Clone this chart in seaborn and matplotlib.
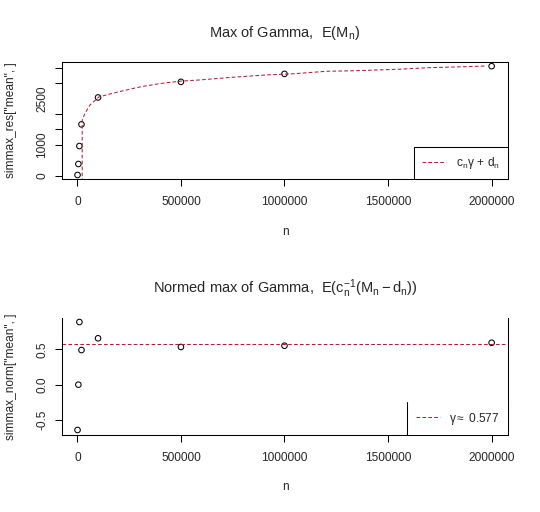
import matplotlib
matplotlib.use('Agg')
import seaborn as sns
from matplotlib import pyplot as plt
from matplotlib.lines import Line2D

# simulated means of the maximum, per sample size
n_sizes = [1000, 5000, 10000, 20000, 100000, 500000, 1000000, 2000000]
mean_max = [23, 380, 962, 1666, 2540, 3046, 3305, 3555]
mean_normed = [-0.641, 0.0, 0.886, 0.490, 0.656, 0.533, 0.551, 0.593]

# theoretical curve c_n * gamma + d_n
curve_n = [23500, 23500, 37000, 61000, 104000, 157000, 237000, 301000,
           398000, 500000, 590000, 749000, 912000, 1047000, 1205000,
           1295000, 1399000, 1567000, 1696000, 1824000, 1976000]
curve_y = [-400, 1808, 2026, 2295, 2555, 2652, 2782, 2880, 2990, 3070,
           3107, 3195, 3270, 3310, 3390, 3400, 3420, 3460, 3506, 3529, 3561]

euler_gamma = 0.577

x_ticks = [0, 500000, 1000000, 1500000, 2000000]
y1_ticks = [0, 1000, 1500, 2000, 3000, 3500]
y1_labels = ['0', '1000', '', '', '', '']
y2_ticks = [-0.5, 0.0, 0.5]

red = '#B01E3C'

sns.set_style('ticks')
plt.rcParams['font.family'] = ['Liberation Sans', 'DejaVu Sans']
plt.rcParams['mathtext.fontset'] = 'custom'
plt.rcParams['mathtext.rm'] = 'Liberation Sans'
plt.rcParams['mathtext.it'] = 'Liberation Sans:italic'
plt.rcParams['lines.dashed_pattern'] = [3.5, 2.2]

fig = plt.figure(figsize=(5.4, 5.12), dpi=100)
ax1 = fig.add_axes([62 / 540, 1 - 179.3 / 512, 446 / 540, 117.6 / 512])
ax2 = fig.add_axes([62 / 540, 1 - 435 / 512, 446 / 540, 117 / 512])

tick_size = 8.6


def style_axes(ax, ylabel):
    for sp in ax.spines.values():
        sp.set_linewidth(0.75)
        sp.set_color('black')
    ax.set_xlim(-74000, 2079000)
    ax.set_xticks(x_ticks)
    ax.set_xticklabels([str(v) for v in x_ticks])
    ax.tick_params(axis='both', which='major', direction='out', length=5,
                   width=0.75, labelsize=tick_size, color='black')
    ax.tick_params(axis='x', pad=7)
    ax.tick_params(axis='y', pad=5, labelrotation=90)
    ax.set_xlabel('n', fontsize=tick_size)
    ax.set_ylabel(ylabel, fontsize=tick_size)
    ax.yaxis.set_label_coords(-0.10, 0.5)
    ax.grid(False)


# top panel
sns.lineplot(x=curve_n, y=curve_y, ax=ax1, estimator=None, sort=False,
             color=red, linestyle='--', linewidth=0.75,
             label=r'$\mathrm{c_n\gamma}\,+\,\mathrm{d_n}$')
sns.scatterplot(x=n_sizes, y=mean_max, ax=ax1, marker='o', s=16,
                facecolor='none', edgecolor='black', linewidth=0.75)
style_axes(ax1, 'simmax_res["mean", ]')
ax1.set_ylim(-117, 3700)
ax1.set_yticks(y1_ticks)
ax1.set_yticklabels(y1_labels)
ax1.set_yticks([2500], minor=True)
ax1.set_yticklabels(['2500'], minor=True)
ax1.tick_params(axis='y', which='minor', length=0, pad=5 + 5,
                labelsize=tick_size, labelrotation=90)
ax1.xaxis.set_label_coords(0.5, -0.397)
ax1.set_title('Max of Gamma,  ' + r'$\mathrm{E(M_n)}$', fontsize=10.5,
              pad=18)

leg1 = ax1.legend(loc='lower right', borderaxespad=0, fontsize=tick_size,
                  handlelength=2.0, handletextpad=0.8, borderpad=0.7,
                  fancybox=False, framealpha=1, edgecolor='black')
leg1.get_frame().set_linewidth(0.75)

# bottom panel
ax2.axhline(euler_gamma, color=red, linestyle='--', linewidth=0.75,
            label=r'$\mathrm{\gamma} \approx$' + ' 0.577')
sns.scatterplot(x=n_sizes, y=mean_normed, ax=ax2, marker='o', s=16,
                facecolor='none', edgecolor='black', linewidth=0.75)
style_axes(ax2, 'simmax_norm["mean", ]')
ax2.spines['top'].set_visible(False)
ax2.set_ylim(-0.712, 0.943)
ax2.set_yticks(y2_ticks)
ax2.set_yticklabels(['-0.5', '0.0', '0.5'])
ax2.xaxis.set_label_coords(0.5, -0.393)
ax2.set_title(r'Normed max of Gamma,  $\mathrm{E(c_n^{-1}(M_n - d_n))}$',
              fontsize=10.5, pad=18)

leg2 = ax2.legend(loc='lower right', borderaxespad=0, fontsize=tick_size,
                  handlelength=2.0, handletextpad=0.8, borderpad=0.7,
                  fancybox=False, framealpha=1, edgecolor='none')

for ax in (ax1, ax2):
    for lab in ax.get_yticklabels(which='both'):
        lab.set_va('center')

# only the left edge of the lower legend box shows in the reference
fig.canvas.draw()
bb = leg2.get_window_extent().transformed(fig.transFigure.inverted())
fig.add_artist(Line2D([bb.x0, bb.x0], [bb.y0, bb.y1], color='black',
                      linewidth=0.75, transform=fig.transFigure))

fig.savefig('out.png', dpi=100)
